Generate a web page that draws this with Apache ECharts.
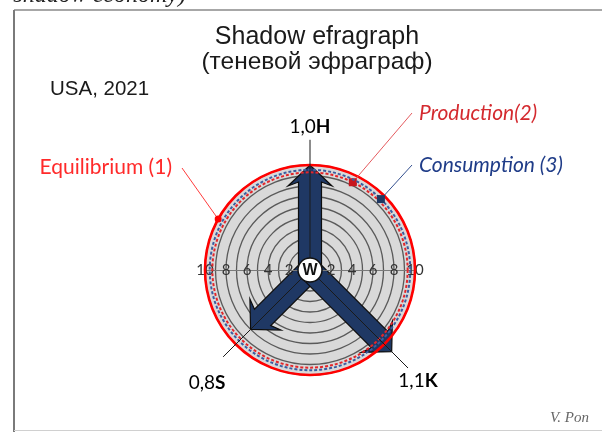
<!DOCTYPE html>
<html>
<head>
<meta charset="utf-8">
<script src="https://cdn.jsdelivr.net/npm/echarts@6/dist/echarts.min.js"></script>
<style>
  html, body { margin: 0; padding: 0; background: #fff; }
  #chart { width: 602px; height: 432px; }
</style>
</head>
<body>
<div id="chart"></div>
<script>
// vectors of the efragraph (share of equilibrium), direction in degrees
const vectorNames = ["H", "S", "K"];
const vectorValues = [1.0, 0.8, 1.1];
const vectorAngles = [90, 225, 315];
const vectorLabels = ["1,0", "0,8", "1,1"];

// reference circles
const levelNames = ["Equilibrium (1)", "Production(2)", "Consumption (3)"];
const levelValues = [1.0, 0.93, 0.955];

// horizontal scale
const scaleTicks = [-10, -8, -6, -4, -2, 0, 2, 4, 6, 8, 10];

const NAVY = "#1f3864";
const LABEL_FONT = "Lato";

// styling only
const AXIS_REACH = [1.24, 1.17, 1.32];
const LABEL_OFFSET = [[0, -13], [-16, 26], [10, 13]];
const LEVEL_STYLE = [
  { stroke: "#ff0000", width: 2.6, dash: null, markAngle: 151, markColor: "#ff0000", anchor: [182, 168], text: [172, 167], align: "right", italic: false, color: "#ff2a2a", lead: "#ff3b3b" },
  { stroke: "#e3262b", width: 2, dash: [3, 2], markAngle: 64, markColor: "#c8161d", anchor: [412, 113], text: [419, 113], align: "left", italic: true, color: "#d42a2f", lead: "#e45a5e" },
  { stroke: "#3a5da0", width: 2, dash: [3, 2], markAngle: 45, markColor: NAVY, anchor: [412, 165], text: [419, 165], align: "left", italic: true, color: "#1f3c88", lead: "#34508f" },
];
const SHAFT = 11.5;
const HEAD = 22;
const HEAD_LEN = 17;

const chart = echarts.init(document.getElementById("chart"), null, { renderer: "canvas" });

function centerOf(api) {
  return api.coord([0, 0]);
}

function arrowPoints(c, t) {
  const dx = t[0] - c[0];
  const dy = t[1] - c[1];
  const len = Math.hypot(dx, dy);
  const ux = dx / len, uy = dy / len;
  const nx = -uy, ny = ux;
  const bx = t[0] - ux * HEAD_LEN, by = t[1] - uy * HEAD_LEN;
  const wx = bx - ux * 4, wy = by - uy * 4;
  return [
    [c[0] + nx * SHAFT, c[1] + ny * SHAFT],
    [bx + nx * SHAFT, by + ny * SHAFT],
    [wx + nx * HEAD, wy + ny * HEAD],
    [t[0], t[1]],
    [wx - nx * HEAD, wy - ny * HEAD],
    [bx - nx * SHAFT, by - ny * SHAFT],
    [c[0] - nx * SHAFT, c[1] - ny * SHAFT],
  ];
}

const option = {
  animation: false,
  title: {
    text: "Shadow efragraph",
    subtext: "(теневой эфраграф)",
    left: 312,
    top: 20,
    textAlign: "center",
    itemGap: 0,
    textStyle: { fontFamily: "Liberation Sans", fontSize: 25, fontWeight: "normal", color: "#1a1a1a", lineHeight: 25 },
    subtextStyle: { fontFamily: "Liberation Sans", fontSize: 24.5, color: "#1a1a1a", lineHeight: 25 },
  },
  grid: { left: 205, right: 187, top: 100, bottom: 162 },
  xAxis: {
    type: "value",
    min: -10,
    max: 10,
    z: 2,
    axisLine: { lineStyle: { color: "#7a7a7a", width: 1.2 } },
    axisTick: { show: false },
    splitLine: { show: false },
    axisLabel: {
      customValues: scaleTicks,
      margin: 0,
      verticalAlign: "middle",
      color: "#333333",
      fontSize: 15,
      fontFamily: LABEL_FONT,
      formatter: (v) => (v === 0 ? "" : String(Math.abs(v))),
    },
  },
  yAxis: { type: "value", show: false, min: 0, max: 1 },
  polar: { center: [310, 270], radius: 105 },
  angleAxis: {
    type: "value",
    min: 0,
    max: 360,
    interval: 90,
    startAngle: 0,
    clockwise: false,
    z: 0,
    axisLine: { show: false },
    axisTick: { show: false },
    axisLabel: { show: false },
    splitLine: { show: false },
    splitArea: { show: true, areaStyle: { color: ["#d9d9d9"] } },
  },
  radiusAxis: {
    type: "value",
    min: 0,
    max: 1,
    interval: 0.1,
    z: 1,
    axisLine: { show: false },
    axisTick: { show: false },
    axisLabel: { show: false },
    splitLine: { show: true, lineStyle: { color: "#5a5a5a", width: 1.3 } },
  },
  graphic: [
    { type: "line", shape: { x1: 14, y1: 10, x2: 602, y2: 10 }, style: { stroke: "#8a8a8a", lineWidth: 1.5 } },
    { type: "line", shape: { x1: 14, y1: 10, x2: 14, y2: 432 }, style: { stroke: "#7a7a7a", lineWidth: 2 } },
    { type: "line", shape: { x1: 14, y1: 430.5, x2: 602, y2: 430.5 }, style: { stroke: "#d0d0d0", lineWidth: 1 } },
    { type: "text", x: 186, y: -4, style: { text: "shadow economy)", fontFamily: "Liberation Serif", fontStyle: "italic", fontSize: 24, fill: "#222", align: "right", verticalAlign: "middle" } },
    { type: "text", x: 50, y: 89, style: { text: "USA, 2021", fontFamily: "Liberation Sans", fontSize: 20.5, fill: "#1a1a1a", verticalAlign: "middle" } },
    { type: "text", x: 589, y: 418, style: { text: "V. Pon", fontFamily: "Liberation Serif", fontStyle: "italic", fontSize: 15, fill: "#666", align: "right", verticalAlign: "middle" } },
  ],
  series: [
    {
      name: "vectors",
      type: "custom",
      coordinateSystem: "polar",
      z: 2,
      data: vectorValues.map((v, i) => [v, vectorAngles[i]]),
      renderItem(params, api) {
        const c = centerOf(api);
        const t = api.coord([api.value(0), api.value(1)]);
        return {
          type: "polygon",
          shape: { points: arrowPoints(c, t) },
          style: { fill: NAVY, stroke: "#0d0d0d", lineWidth: 1.2 },
        };
      },
    },
    {
      name: "levels",
      type: "custom",
      coordinateSystem: "polar",
      z: 3,
      data: levelValues.map((v, i) => [v, LEVEL_STYLE[i].markAngle]),
      renderItem(params, api) {
        const i = params.dataIndex;
        const s = LEVEL_STYLE[i];
        const c = centerOf(api);
        const e = api.coord([api.value(0), 0]);
        const r = Math.hypot(e[0] - c[0], e[1] - c[1]);
        const m = api.coord([api.value(0), api.value(1)]);
        const marker = i === 0
          ? { type: "circle", shape: { cx: m[0], cy: m[1], r: 3.5 }, style: { fill: s.markColor } }
          : { type: "rect", shape: { x: m[0] - 4, y: m[1] - 4, width: 8, height: 8 }, style: { fill: s.markColor } };
        return {
          type: "group",
          children: [
            { type: "circle", shape: { cx: c[0], cy: c[1], r: r }, style: { fill: "none", stroke: s.stroke, lineWidth: s.width, lineDash: s.dash } },
            { type: "line", shape: { x1: m[0], y1: m[1], x2: s.anchor[0], y2: s.anchor[1] }, style: { stroke: s.lead, lineWidth: 1 } },
            marker,
            {
              type: "text",
              x: s.text[0],
              y: s.text[1],
              style: {
                text: levelNames[i],
                fontFamily: LABEL_FONT,
                fontSize: 21,
                fontStyle: s.italic ? "italic" : "normal",
                fill: s.color,
                align: s.align,
                verticalAlign: "middle",
              },
            },
          ],
        };
      },
    },
    {
      name: "axes",
      type: "custom",
      coordinateSystem: "polar",
      z: 4,
      data: AXIS_REACH.map((v, i) => [v, vectorAngles[i]]),
      renderItem(params, api) {
        const i = params.dataIndex;
        const c = centerOf(api);
        const e = api.coord([api.value(0), api.value(1)]);
        const off = LABEL_OFFSET[i];
        return {
          type: "group",
          children: [
            { type: "line", shape: { x1: c[0], y1: c[1], x2: e[0], y2: e[1] }, style: { stroke: "#1a1a1a", lineWidth: 1 } },
            {
              type: "text",
              x: e[0] + off[0],
              y: e[1] + off[1],
              style: {
                text: "{n|" + vectorLabels[i] + "}{b|" + vectorNames[i] + "}",
                align: "center",
                verticalAlign: "middle",
                rich: {
                  n: { fontFamily: LABEL_FONT, fontSize: 19, color: "#262626" },
                  b: { fontFamily: LABEL_FONT, fontSize: 19, fontWeight: "bold", color: "#262626" },
                },
              },
            },
          ],
        };
      },
    },
    {
      name: "W",
      type: "custom",
      coordinateSystem: "polar",
      z: 5,
      data: [[0, 0]],
      renderItem(params, api) {
        const c = centerOf(api);
        return {
          type: "group",
          children: [
            { type: "circle", shape: { cx: c[0], cy: c[1], r: 12 }, style: { fill: "#fff", stroke: "#111", lineWidth: 1.5 } },
            { type: "text", x: c[0], y: c[1] + 1, style: { text: "W", fontFamily: "Liberation Sans", fontWeight: "bold", fontSize: 16, fill: "#111", align: "center", verticalAlign: "middle" } },
          ],
        };
      },
    },
  ],
};

chart.setOption(option);
</script>
</body>
</html>
